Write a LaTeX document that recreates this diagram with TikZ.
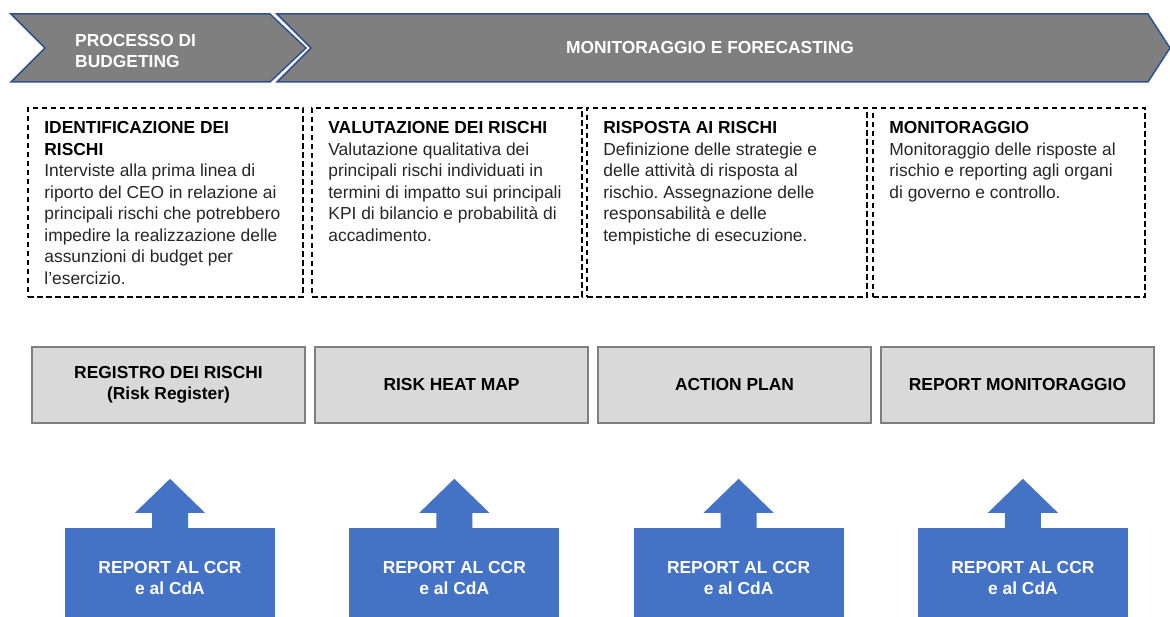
\documentclass[tikz,border=0pt]{standalone}
\usepackage{fontspec}
\setmainfont{Liberation Sans}
\usepackage{tikz}
\usetikzlibrary{positioning}
\definecolor{phasegray}{HTML}{7F7F7F}
\definecolor{phaseblue}{HTML}{2F528F}
\definecolor{boxgray}{HTML}{D9D9D9}
\definecolor{reportblue}{HTML}{4472C4}
\definecolor{bodytext}{HTML}{262626}
\frenchspacing
\newcommand{\diagfont}{\fontsize{17.4}{21.5}\selectfont}
\newcommand{\headtxt}[1]{\textcolor{black}{\textbf{#1}}}
\tikzstyle{phase} = [fill=phasegray, draw=phaseblue, line width=1.5pt, line join=miter]
\tikzstyle{phaselabel} = [text=white, font=\diagfont\bfseries, align=left, inner sep=0pt]
\tikzstyle{activity} = [draw, line width=1.6pt, dash pattern=on 5.5pt off 3.5pt,
    minimum height=189pt, inner sep=0pt]
\tikzstyle{activitytext} = [anchor=north west, inner sep=0pt, align=left,
    text=bodytext, font=\diagfont]
\tikzstyle{deliverable} = [draw=phasegray, fill=boxgray, line width=1.6pt,
    minimum width=273pt, minimum height=76pt, font=\diagfont\bfseries, align=center]
\tikzstyle{report} = [fill=reportblue, text=white, font=\diagfont\bfseries, align=center,
    minimum width=210pt, minimum height=100pt]

\begin{document}
\begin{tikzpicture}[x=1pt, y=-1pt, node distance=283pt]
          \useasboundingbox (0,0) rectangle (1170,617);

          % Phases
          \draw [phase] (11,14) -- (270,14) -- (306,48) -- (270,82) -- (11,82) -- (45,48) -- cycle;
          \draw [phase] (277,14) -- (1148,14) -- (1170,48) -- (1148,82) -- (277,82) -- (311,48) -- cycle;
          \node [phaselabel, anchor=west] (budget) at (75,51) {PROCESSO DI\\BUDGETING};
          \node [phaselabel] (forecast) at (710,48) {MONITORAGGIO E FORECASTING};

          % Activities
          \node [activity, minimum width=275pt] (ident) at (165.5,202.5) {};
          \node [activity, minimum width=270pt] (valut) at (447,202.5) {};
          \node [activity, minimum width=280pt] (risp) at (727,202.5) {};
          \node [activity, minimum width=272pt] (monit) at (1009,202.5) {};

          \node [activitytext] (identtext) at ([xshift=17pt,yshift=-14pt]ident.north west)
              {\headtxt{IDENTIFICAZIONE DEI}\\\headtxt{RISCHI}\\Interviste alla prima linea di\\
               riporto del CEO in relazione ai\\principali rischi che potrebbero\\
               impedire la realizzazione delle\\assunzioni di budget per\\l’esercizio.};
          \node [activitytext] (valuttext) at ([xshift=17pt,yshift=-14pt]valut.north west)
              {\headtxt{VALUTAZIONE DEI RISCHI}\\Valutazione qualitativa dei\\
               principali rischi individuati in\\termini di impatto sui principali\\
               KPI di bilancio e probabilità di\\accadimento.};
          \node [activitytext] (risptext) at ([xshift=17pt,yshift=-14pt]risp.north west)
              {\headtxt{RISPOSTA AI RISCHI}\\Definizione delle strategie e\\
               delle attività di risposta al\\rischio. Assegnazione delle\\
               responsabilità e delle\\tempistiche di esecuzione.};
          \node [activitytext] (monittext) at ([xshift=17pt,yshift=-14pt]monit.north west)
              {\headtxt{MONITORAGGIO}\\Monitoraggio delle risposte al\\
               rischio e reporting agli organi\\di governo e controllo.};

          % Deliverables
          \node [deliverable] (registro) at (168.5,385) {REGISTRO DEI RISCHI\\(Risk Register)};
          \node [deliverable, right of=registro] (heatmap) {RISK HEAT MAP};
          \node [deliverable, right of=heatmap] (actionplan) {ACTION PLAN};
          \node [deliverable, right of=actionplan] (reportmon) {REPORT MONITORAGGIO};

          % Reports
          \node [report] (rep1) at (170,578) {REPORT AL CCR\\e al CdA};
          \node [report, right of=rep1, node distance=284.3pt] (rep2) {REPORT AL CCR\\e al CdA};
          \node [report, right of=rep2, node distance=284.3pt] (rep3) {REPORT AL CCR\\e al CdA};
          \node [report, right of=rep3, node distance=284.3pt] (rep4) {REPORT AL CCR\\e al CdA};

          \foreach \r in {rep1,rep2,rep3,rep4}
              \fill [reportblue] (\r.north) +(-18,0) -- +(-18,-15) -- +(-35,-15) -- +(0,-49)
                  -- +(35,-15) -- +(18,-15) -- +(18,0) -- cycle;
      \end{tikzpicture}
\end{document}
